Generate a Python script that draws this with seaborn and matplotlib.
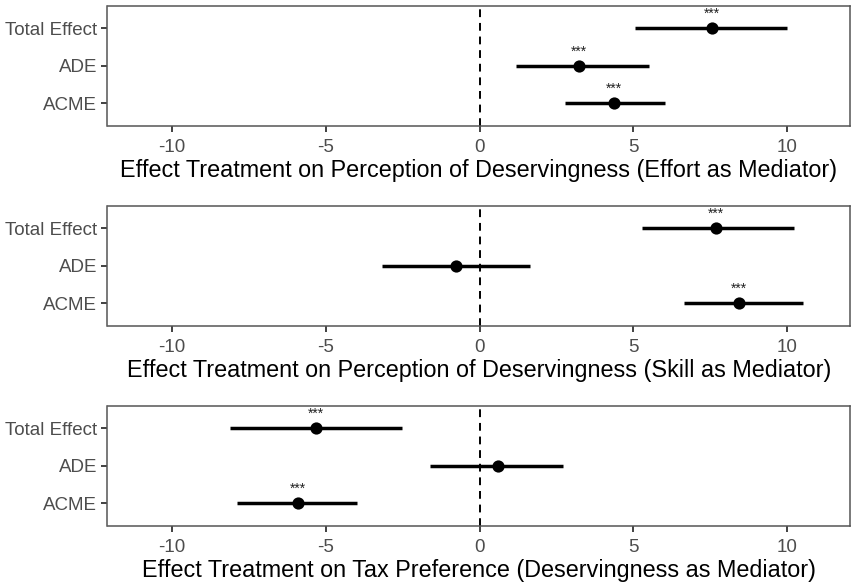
import matplotlib
matplotlib.use("Agg")
import matplotlib.pyplot as plt
import seaborn as sns
import pandas as pd

effects = ["Total Effect", "ADE", "ACME"]

# Panel 1: Effort as mediator
p1_est = [7.57, 3.23, 4.36]
p1_lo = [5.05, 1.18, 2.79]
p1_hi = [10.0, 5.50, 6.04]
p1_sig = ["***", "***", "***"]

# Panel 2: Skill as mediator
p2_est = [7.69, -0.78, 8.43]
p2_lo = [5.30, -3.16, 6.64]
p2_hi = [10.23, 1.64, 10.53]
p2_sig = ["***", "", "***"]

# Panel 3: Deservingness as mediator (tax preference)
p3_est = [-5.32, 0.60, -5.90]
p3_lo = [-8.11, -1.61, -7.88]
p3_hi = [-2.51, 2.72, -3.99]
p3_sig = ["***", "", "***"]

xlabels = [
    "Effect Treatment on Perception of Deservingness (Effort as Mediator)",
    "Effect Treatment on Perception of Deservingness (Skill as Mediator)",
    "Effect Treatment on Tax Preference (Deservingness as Mediator)",
]
xticks = [-10, -5, 0, 5, 10]

sns.set_theme(style="white")
plt.rcParams["font.family"] = ["Liberation Sans", "DejaVu Sans"]

fig = plt.figure(figsize=(8.52, 5.83), dpi=100)
W, H = 852, 583
panels = [(6, 125.7), (205.7, 325.7), (405.7, 525.7)]
left, right = 107.5, 850

data = [
    (p1_est, p1_lo, p1_hi, p1_sig),
    (p2_est, p2_lo, p2_hi, p2_sig),
    (p3_est, p3_lo, p3_hi, p3_sig),
]

for (top, bot), (est, lo, hi, sig), xl in zip(panels, data, xlabels):
    ax = fig.add_axes([left / W, 1 - bot / H, (right - left) / W, (bot - top) / H])
    df = pd.DataFrame({"effect": effects, "est": est, "lo": lo, "hi": hi, "sig": sig})
    ax.axvline(0, color="black", linestyle=(0, (4, 3)), linewidth=1.4, zorder=1)
    ax.hlines(y=range(len(effects)), xmin=df["lo"], xmax=df["hi"], color="black",
              linewidth=2.5, zorder=2)
    sns.stripplot(data=df, x="est", y="effect", order=effects, jitter=False,
                  color="black", size=8.8, ax=ax, zorder=3, orient="h")
    for i, row in df.iterrows():
        if row["sig"]:
            ax.text(row["est"], i - 0.2, row["sig"], ha="center", va="bottom",
                    fontsize=10, color="#222222")
    ax.set_xlim(-12.1, 12.05)
    ax.set_ylim(2.6, -0.6)
    ax.set_xticks(xticks)
    ax.set_xticklabels([str(t) for t in xticks])
    ax.set_ylabel("")
    ax.set_xlabel(xl, fontsize=16.8, color="black", labelpad=2.5)
    ax.tick_params(axis="x", pad=5)
    ax.tick_params(axis="y", pad=3)
    ax.tick_params(axis="both", which="both", length=4.5, width=1.3, color="#333333",
                   labelsize=13.5, labelcolor="#4D4D4D", left=True, bottom=True)
    for s in ax.spines.values():
        s.set_color("#555555")
        s.set_linewidth(1.1)

fig.savefig("out.png", dpi=100)
